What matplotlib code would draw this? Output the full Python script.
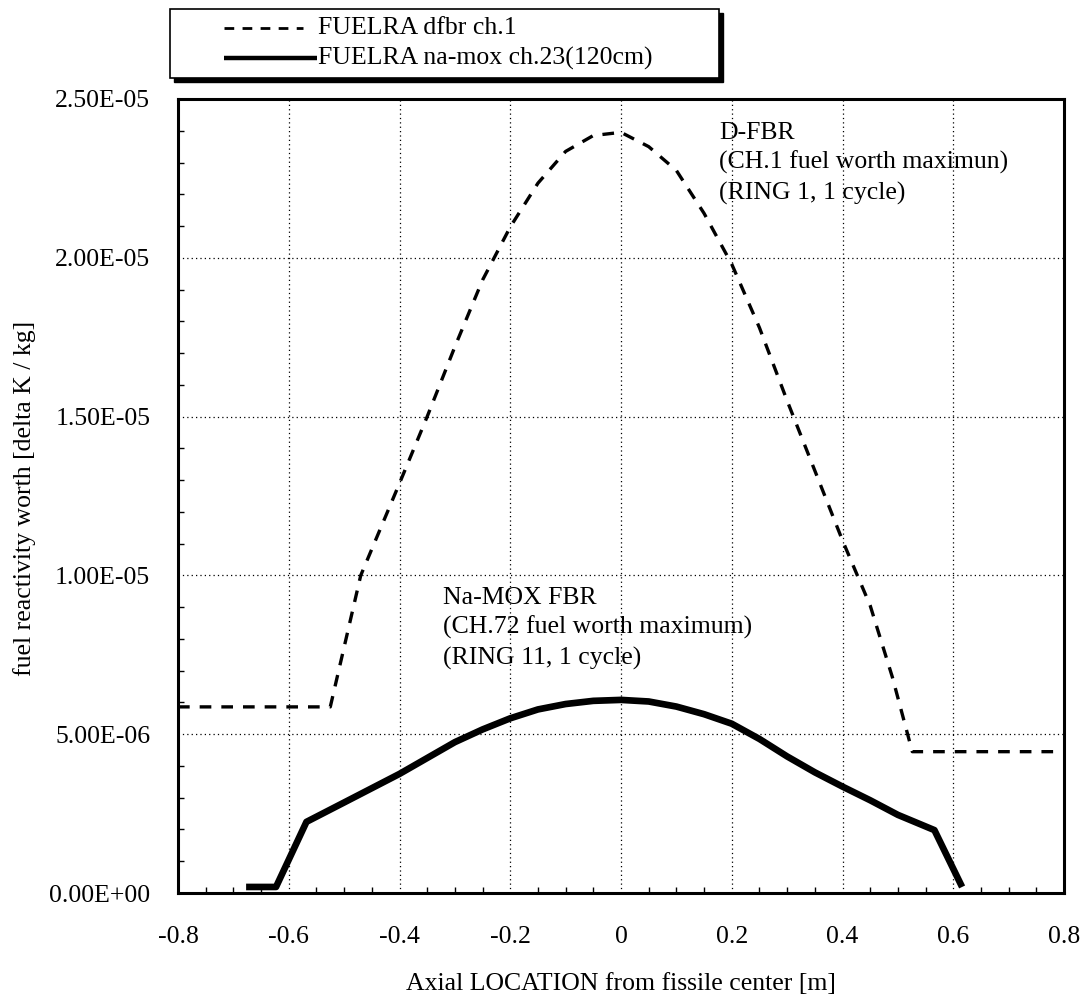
import matplotlib
matplotlib.use("Agg")
import matplotlib.pyplot as plt
import matplotlib.ticker as mticker
from matplotlib.lines import Line2D
from matplotlib.patches import Rectangle

# --- Data ---
# D-FBR, CH.1 fuel worth (dashed)
dfbr_x = [-0.80, -0.525, -0.47, -0.40, -0.35, -0.30, -0.25, -0.20, -0.15, -0.10,
          -0.05, 0.00, 0.05, 0.10, 0.15, 0.20, 0.25, 0.30, 0.35, 0.40, 0.45,
          0.49, 0.526, 0.80]
dfbr_y = [5.86e-6, 5.86e-6, 10.0e-6, 12.9e-6, 15.0e-6, 17.2e-6, 19.3e-6, 20.97e-6,
          22.35e-6, 23.35e-6, 23.85e-6, 23.95e-6, 23.5e-6, 22.75e-6, 21.4e-6,
          19.8e-6, 17.8e-6, 15.5e-6, 13.3e-6, 11.1e-6, 9.05e-6, 6.8e-6,
          4.45e-6, 4.45e-6]

# Na-MOX FBR, CH.72 fuel worth (thick solid)
namox_x = [-0.677, -0.623, -0.568, -0.50, -0.45, -0.40, -0.35, -0.30, -0.25, -0.20,
           -0.15, -0.10, -0.05, 0.00, 0.05, 0.10, 0.15, 0.20, 0.25, 0.30, 0.35,
           0.40, 0.45, 0.50, 0.566, 0.616]
namox_y = [0.19e-6, 0.19e-6, 2.24e-6, 2.85e-6, 3.3e-6, 3.75e-6, 4.25e-6, 4.75e-6,
           5.15e-6, 5.5e-6, 5.78e-6, 5.95e-6, 6.05e-6, 6.08e-6, 6.03e-6, 5.87e-6,
           5.63e-6, 5.33e-6, 4.85e-6, 4.3e-6, 3.8e-6, 3.35e-6, 2.92e-6, 2.46e-6,
           1.98e-6, 0.19e-6]

legend_labels = ["FUELRA dfbr ch.1", "FUELRA na-mox ch.23(120cm)"]
dfbr_note = "D-FBR\n(CH.1 fuel worth maximun)\n(RING 1, 1 cycle)"
namox_note = "Na-MOX FBR\n(CH.72 fuel worth maximum)\n(RING 11, 1 cycle)"

plt.rcParams['font.family'] = ['Liberation Serif', 'DejaVu Serif']
FS = 18.5

W, H = 1084, 996
fig = plt.figure(figsize=(W / 100, H / 100), dpi=100)
ax = fig.add_axes([178 / W, 1 - 893 / H, (1064 - 178) / W, (893 - 99) / H])

ax.plot(dfbr_x, dfbr_y, color='black', linewidth=2.4, linestyle=(0, (3.5, 3.0)),
        zorder=3)
ax.plot(namox_x, namox_y, color='black', linewidth=4.8, solid_capstyle='butt',
        solid_joinstyle='round', zorder=3)

ax.set_xlim(-0.8, 0.8)
ax.set_ylim(0, 2.5e-5)
ax.xaxis.set_major_locator(mticker.MultipleLocator(0.2))
ax.xaxis.set_minor_locator(mticker.MultipleLocator(0.05))
ax.yaxis.set_major_locator(mticker.MultipleLocator(5e-6))
ax.yaxis.set_minor_locator(mticker.MultipleLocator(1e-6))
ax.xaxis.set_major_formatter(mticker.FuncFormatter(lambda v, p: f"{v:.1f}" if abs(v) > 1e-9 else "0"))
ax.yaxis.set_major_formatter(mticker.FuncFormatter(lambda v, p: f"{v:.2E}"))

ax.tick_params(axis='both', which='major', direction='in', length=0, labelsize=FS)
ax.tick_params(axis='x', which='major', pad=24)
ax.tick_params(axis='y', which='major', pad=20)
ax.tick_params(axis='both', which='minor', direction='in', length=4, width=1)
ax.grid(True, which='major', color='black', linestyle=(0, (1, 2.5)), linewidth=0.9)

for s in ax.spines.values():
    s.set_linewidth(2.2)

ax.set_xlabel("Axial LOCATION from fissile center [m]", fontsize=FS, labelpad=18)
fig.text(25 / W, 1 - 498 / H, "fuel reactivity worth [delta K / kg]", fontsize=FS,
         rotation=90, ha='center', va='center')

ax.text(0.177, 22.98e-6, dfbr_note, fontsize=FS, ha='left', va='center',
        linespacing=1.4)
ax.text(-0.321, 8.34e-6, namox_note, fontsize=FS, ha='left', va='center',
        linespacing=1.4)

# --- legend box drawn above the axes, as in the original ---
def fx(px):
    return px / W

def fy(py):
    return 1 - py / H

box_l, box_r, box_t, box_b = 170, 719, 9, 78
fig.add_artist(Rectangle((fx(box_l + 4), fy(box_b + 4)), (box_r - box_l) / W,
                         (box_b - box_t) / H, transform=fig.transFigure,
                         facecolor='black', edgecolor='black', zorder=5))
fig.add_artist(Rectangle((fx(box_l), fy(box_b)), (box_r - box_l) / W,
                         (box_b - box_t) / H, transform=fig.transFigure,
                         facecolor='white', edgecolor='black', linewidth=1.2,
                         zorder=6))
row_y = [28, 58]
fig.add_artist(Line2D([fx(224), fx(303)], [fy(row_y[0])] * 2, transform=fig.transFigure,
                      color='black', linewidth=2.0, linestyle=(0, (3.5, 3.0)), zorder=7))
fig.add_artist(Line2D([fx(224), fx(317)], [fy(row_y[1])] * 2, transform=fig.transFigure,
                      color='black', linewidth=3.2, solid_capstyle='butt', zorder=7))
for lab, ry in zip(legend_labels, row_y):
    fig.text(fx(318), fy(ry), lab, fontsize=FS, ha='left', va='center', zorder=8)

fig.savefig("out.png", dpi=100)
